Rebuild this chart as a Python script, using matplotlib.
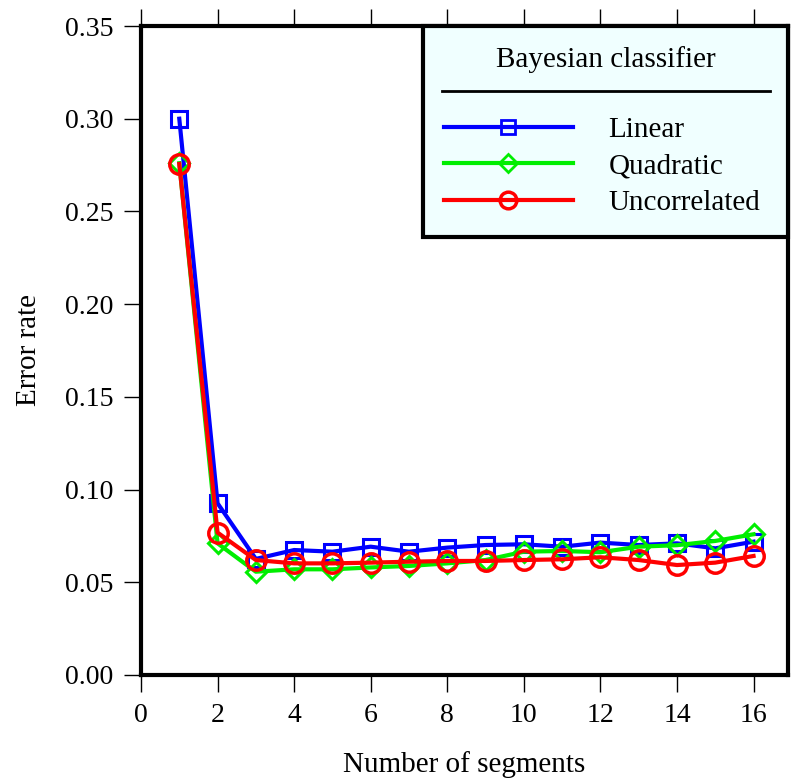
import matplotlib
matplotlib.use("Agg")
import matplotlib.pyplot as plt
from matplotlib.lines import Line2D

plt.rcParams['font.family'] = ['Liberation Serif', 'DejaVu Serif']

segments = list(range(1, 17))
linear = [0.300, 0.0926, 0.0626, 0.0674, 0.0665, 0.0692, 0.0665, 0.0687,
          0.0701, 0.0705, 0.0692, 0.0714, 0.0701, 0.0710, 0.0683, 0.0719]
quadratic = [0.276, 0.0710, 0.0557, 0.0570, 0.0570, 0.0580, 0.0588, 0.0602,
             0.0620, 0.0665, 0.0669, 0.0662, 0.0692, 0.0700, 0.0723, 0.0759]
uncorrelated = [0.2756, 0.0768, 0.0620, 0.0602, 0.0602, 0.0606, 0.0611, 0.0615,
                0.0615, 0.0620, 0.0624, 0.0635, 0.0620, 0.0593, 0.0606, 0.0642]
labels = ['Linear', 'Quadratic', 'Uncorrelated']
legend_title = 'Bayesian classifier'
xticks = list(range(0, 17, 2))
yticks = [0.00, 0.05, 0.10, 0.15, 0.20, 0.25, 0.30, 0.35]

fig = plt.figure(figsize=(7.96, 7.78), dpi=100)
ax = fig.add_axes([141/796, 1 - 675/778, (788-141)/796, (675-26)/778])

ax.plot(segments, linear, color='#0000ff', lw=3, marker='s', ms=11, mfc='none',
        mec='#0000ff', mew=2.2, label=labels[0])
ax.plot(segments, quadratic, color='#00ee00', lw=3, marker='D', ms=10, mfc='none',
        mec='#00ee00', mew=2.2, label=labels[1])
ax.plot(segments, uncorrelated, color='#ff0000', lw=3, marker='o', ms=14, mfc='none',
        mec='#ff0000', mew=2.5, label=labels[2])

ax.set_xlim(0, 16.9)
ax.set_ylim(0, 0.35)
ax.set_xticks(xticks)
ax.set_yticks(yticks)
ax.set_yticklabels([f'{v:.2f}' for v in yticks])
ax.tick_params(axis='both', direction='out', length=12, width=1, labelsize=20, pad=8)
ax.tick_params(axis='x', top=True, labeltop=False)
for s in ax.spines.values():
    s.set_linewidth(3)

ax.set_xlabel('Number of segments', fontsize=21, labelpad=17)
ax.set_ylabel('Error rate', fontsize=21, labelpad=16)

handles = [Line2D([], [], color='#0000ff', lw=3, marker='s', ms=10, mfc='none', mec='#0000ff', mew=2),
           Line2D([], [], color='#00ee00', lw=3, marker='D', ms=9, mfc='none', mec='#00ee00', mew=2),
           Line2D([], [], color='#ff0000', lw=3, marker='o', ms=12, mfc='none', mec='#ff0000', mew=2.5)]
leg = ax.legend(handles, labels, title=legend_title, loc='upper left',
                bbox_to_anchor=(0.436, 0, 0.564, 1), mode='expand',
                borderaxespad=0, fontsize=21, title_fontsize=21, handlelength=4.45,
                handletextpad=1.2, labelspacing=0.35, borderpad=0.7,
                fancybox=False, edgecolor='black', facecolor='#f0ffff', framealpha=1)
leg.get_frame().set_linewidth(3)
leg._legend_box.sep = 31
ax.plot([0.465, 0.972], [0.900, 0.900], transform=ax.transAxes, color='black', lw=2,
        zorder=10, clip_on=False)

fig.savefig('out.png', dpi=100)
